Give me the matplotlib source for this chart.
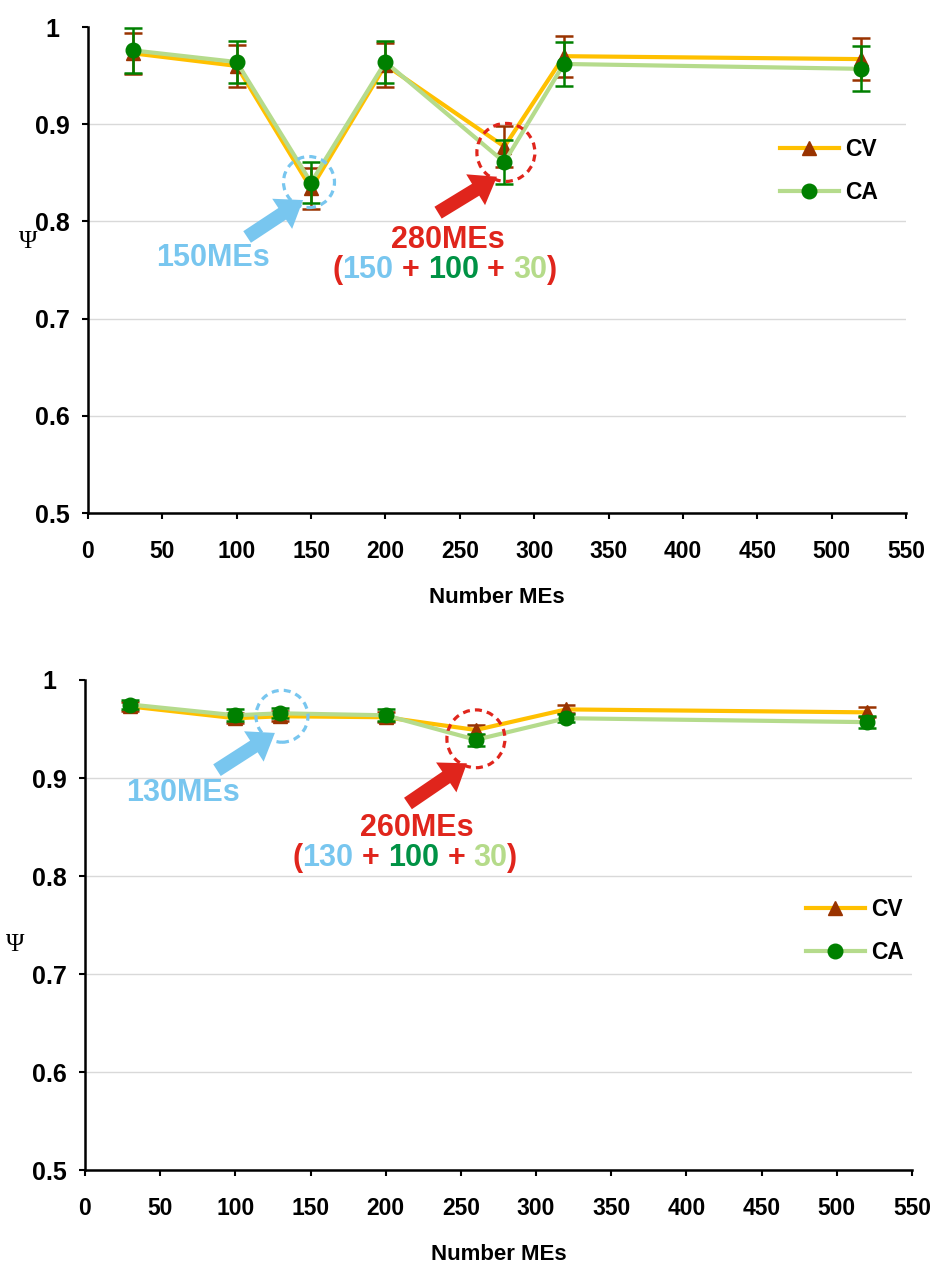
import numpy as np
import matplotlib.pyplot as plt
from matplotlib.patches import Ellipse
from matplotlib.offsetbox import TextArea, HPacker, AnnotationBbox

plt.rcParams['font.family'] = 'Liberation Sans'
plt.rcParams['font.weight'] = 'bold'

# data
x_top = [30, 100, 150, 200, 280, 320, 520]
cv_top = [0.973, 0.960, 0.834, 0.961, 0.877, 0.970, 0.967]
cv_top_err = [0.021, 0.022, 0.021, 0.023, 0.021, 0.021, 0.022]
ca_top = [0.976, 0.964, 0.840, 0.964, 0.861, 0.962, 0.957]
ca_top_err = [0.023, 0.022, 0.021, 0.022, 0.023, 0.023, 0.023]

x_bot = [30, 100, 130, 200, 260, 320, 520]
cv_bot = [0.973, 0.961, 0.963, 0.962, 0.949, 0.970, 0.967]
cv_bot_err = [0.005, 0.005, 0.005, 0.005, 0.005, 0.004, 0.005]
ca_bot = [0.975, 0.964, 0.966, 0.964, 0.939, 0.961, 0.957]
ca_bot_err = [0.005, 0.006, 0.005, 0.006, 0.006, 0.004, 0.006]

xticks = np.arange(0, 551, 50)
yticks = [0.5, 0.6, 0.7, 0.8, 0.9, 1.0]
ytick_labels = ['0.5', '0.6', '0.7', '0.8', '0.9', '1']

c_cv_line = '#FFC000'
c_cv_mark = '#993300'
c_ca_line = '#B5DB8C'
c_ca_mark = '#008000'
c_blue = '#78C6EF'
c_red = '#E0251C'
c_dgreen = '#009245'
c_lgreen = '#B5DB8A'


def panel(ax, x, cv, cv_err, ca, ca_err):
    ax.errorbar(x, cv, yerr=cv_err, fmt='none', ecolor=c_cv_mark,
                elinewidth=1.8, capsize=6.5, capthick=1.8, zorder=3)
    ax.plot(x, cv, color=c_cv_line, lw=3, marker='^', ms=10.5,
            mfc=c_cv_mark, mec=c_cv_mark, label='CV', zorder=4)
    ax.errorbar(x, ca, yerr=ca_err, fmt='none', ecolor=c_ca_mark,
                elinewidth=1.8, capsize=6.5, capthick=1.8, zorder=5)
    ax.plot(x, ca, color=c_ca_line, lw=3, marker='o', ms=10.5,
            mfc=c_ca_mark, mec=c_ca_mark, label='CA', zorder=6)
    ax.set_xlim(0, 550)
    ax.set_ylim(0.5, 1.0)
    ax.set_xticks(xticks)
    ax.set_yticks(yticks)
    ax.set_yticklabels(ytick_labels, ha='center')
    ax.tick_params(axis='x', labelsize=16.5, length=4.5, width=1.5, pad=15)
    ax.tick_params(axis='y', labelsize=18, length=4.5, width=1.5, pad=21)
    ax.grid(axis='y', color='#D9D9D9', lw=1)
    ax.yaxis.get_gridlines()[-1].set_visible(False)
    ax.set_axisbelow(True)
    for s in ['top', 'right']:
        ax.spines[s].set_visible(False)
    for s in ['left', 'bottom']:
        ax.spines[s].set_linewidth(1.8)
    ax.set_xlabel('Number MEs', fontsize=16, fontweight='bold', labelpad=17)
    ax.set_ylabel('Ψ', family='Liberation Serif', fontweight='normal',
                  fontsize=18, rotation=0, va='center', ha='center')


def callout(ax, n_small, n_total, blue_circ, red_circ, blue_arrow, red_arrow,
            small_pos, total_pos, sum_pos):
    ax.add_patch(Ellipse(blue_circ[0], blue_circ[1], blue_circ[2], fill=False,
                         ec=c_blue, lw=2.3, ls=(0, (2.2, 1.6)), zorder=7))
    ax.add_patch(Ellipse(red_circ[0], red_circ[1], red_circ[2], fill=False,
                         ec=c_red, lw=2.3, ls=(0, (2.2, 1.6)), zorder=7))
    style = 'simple,head_length=0.9,head_width=1.3,tail_width=0.5'
    ax.annotate('', xy=blue_arrow[1], xytext=blue_arrow[0],
                arrowprops=dict(arrowstyle=style, color=c_blue, lw=0,
                                shrinkA=0, shrinkB=0, mutation_scale=20))
    ax.annotate('', xy=red_arrow[1], xytext=red_arrow[0],
                arrowprops=dict(arrowstyle=style, color=c_red, lw=0,
                                shrinkA=0, shrinkB=0, mutation_scale=20))
    fs = 22
    ax.text(small_pos[0], small_pos[1], '%dMEs' % n_small, color=c_blue,
            fontsize=fs, ha='center', va='center')
    ax.text(total_pos[0], total_pos[1], '%dMEs' % n_total, color=c_red,
            fontsize=fs, ha='center', va='center')

    def ta(s, c):
        return TextArea(s, textprops=dict(color=c, fontsize=fs, fontweight='bold'))
    left = HPacker(children=[ta('(', c_red), ta(str(n_small), c_blue)],
                   align='baseline', pad=0, sep=0)
    right = HPacker(children=[ta('30', c_lgreen), ta(')', c_red)],
                    align='baseline', pad=0, sep=0)
    row = HPacker(children=[left, ta('+', c_red), ta('100', c_dgreen),
                            ta('+', c_red), right],
                  align='baseline', pad=0, sep=6)
    ab = AnnotationBbox(row, sum_pos, xycoords='data', frameon=False,
                        box_alignment=(0.5, 0.5), pad=0)
    ax.add_artist(ab)


fig = plt.figure(figsize=(9.36, 12.63), dpi=100)
ax1 = fig.add_axes([0.0940, 0.5938, 0.8739, 0.3848])
ax2 = fig.add_axes([0.0908, 0.0736, 0.8835, 0.3880])

panel(ax1, x_top, cv_top, cv_top_err, ca_top, ca_top_err)
panel(ax2, x_bot, cv_bot, cv_bot_err, ca_bot, ca_bot_err)
ax1.yaxis.set_label_coords(-0.073, 0.557)
ax2.yaxis.set_label_coords(-0.085, 0.459)

callout(ax1, 150, 280,
        ((148.6, 0.8405), 34.3, 0.0525), ((281, 0.871), 39, 0.0597),
        ((107, 0.784), (144.6, 0.822)), ((235.4, 0.809), (275, 0.846)),
        (84, 0.762), (242, 0.781), (240, 0.750))
callout(ax2, 130, 260,
        ((131, 0.963), 34.6, 0.053), ((260, 0.940), 38.6, 0.059),
        ((87.8, 0.908), (126.3, 0.946)), ((214.8, 0.874), (254, 0.915)),
        (65, 0.885), (220.7, 0.849), (212.8, 0.818))

for ax, anchor in [(ax1, (0.837, 0.704)), (ax2, (0.863, 0.488))]:
    leg = ax.legend(loc='center left', bbox_to_anchor=anchor, fontsize=16.5,
                    frameon=True, fancybox=False, framealpha=1,
                    facecolor='white', edgecolor='none', borderpad=0.3,
                    borderaxespad=0, handlelength=2.6, handletextpad=0.25,
                    labelspacing=0.85)
    leg.set_zorder(10)

fig.savefig('out.png', dpi=100)
